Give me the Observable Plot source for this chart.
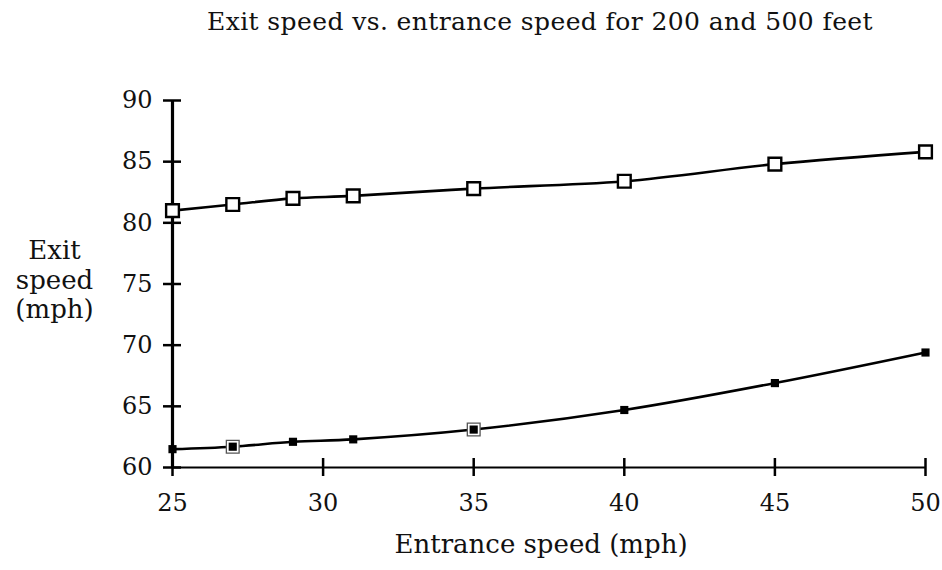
<!DOCTYPE html>
<html>
<head>
<meta charset="utf-8">
<script src="https://cdn.jsdelivr.net/npm/d3@7"></script>
<script src="https://cdn.jsdelivr.net/npm/@observablehq/plot@0.6"></script>
<style>
  html, body { margin: 0; padding: 0; background: #fff; }
  #title { width: 942px; height: 44px; box-sizing: border-box; padding-top: 9px; padding-left: 138px;
           text-align: center; font-family: "DejaVu Serif", serif; font-size: 25px; letter-spacing: 0.4px; line-height: 1; color: #111; }
</style>
</head>
<body>
<div id="title">Exit speed vs. entrance speed for 200 and 500 feet</div>
<div id="chart"></div>
<script>
// Data
const entrance = [25, 27, 29, 31, 35, 40, 45, 50];
const exit500 = [81.0, 81.5, 82.0, 82.2, 82.8, 83.4, 84.8, 85.8];
const exit200 = [61.5, 61.7, 62.1, 62.3, 63.1, 64.7, 66.9, 69.4];
const outlined200 = [27, 35];
const xTicks = [25, 30, 35, 40, 45, 50];
const yTicks = [60, 65, 70, 75, 80, 85, 90];

const series500 = entrance.map((x, i) => ({x, y: exit500[i]}));
const series200 = entrance.map((x, i) => ({x, y: exit200[i]}));
const series200Outlined = series200.filter(d => outlined200.includes(d.x));

const chart = Plot.plot({
  width: 942,
  height: 526,
  marginLeft: 172,
  marginRight: 17,
  marginTop: 56,
  marginBottom: 103,
  style: {fontFamily: "DejaVu Serif, serif", fontSize: "24px", color: "#111", background: "#fff"},
  x: {domain: [25, 50]},
  y: {domain: [60, 90]},
  marks: [
    Plot.ruleX([25], {stroke: "#000", strokeWidth: 3.2}),
    Plot.ruleY([60], {stroke: "#000", strokeWidth: 2}),
    Plot.axisY({ticks: yTicks, tickSize: 9, tickPadding: 11, strokeWidth: 2.5, stroke: "#000", label: null}),
    Plot.axisY({ticks: yTicks, tickSize: 9, dx: 9, strokeWidth: 2.5, stroke: "#000", tickFormat: () => "", label: null}),
    Plot.axisX({ticks: xTicks, tickSize: 9, tickPadding: 17, strokeWidth: 2.5, stroke: "#000", label: null}),
    Plot.axisX({ticks: xTicks, tickSize: 9, dy: -9, strokeWidth: 2.5, stroke: "#000", tickFormat: () => "", label: null}),
    Plot.line(series500, {x: "x", y: "y", curve: "catmull-rom", stroke: "#000", strokeWidth: 2.6}),
    Plot.line(series200, {x: "x", y: "y", curve: "catmull-rom", stroke: "#000", strokeWidth: 2.6}),
    Plot.dot(series500, {x: "x", y: "y", symbol: "square", r: 7.2, fill: "#fff", stroke: "#000", strokeWidth: 2.4}),
    Plot.dot(series200Outlined, {x: "x", y: "y", symbol: "square", r: 7.2, fill: "#fff", stroke: "#555", strokeWidth: 1.3}),
    Plot.dot(series200, {x: "x", y: "y", symbol: "square", r: 4.6, fill: "#000", stroke: "none"}),
    Plot.text(["Entrance speed (mph)"], {frameAnchor: "bottom", dy: 85, dx: -8, text: d => d, fontSize: 26, fill: "#111"}),
    Plot.text(["Exit\nspeed\n(mph)"], {frameAnchor: "left", dx: -118, dy: -5, text: d => d, fontSize: 26, lineHeight: 1.15, textAnchor: "middle", fill: "#111"})
  ]
});
document.getElementById("chart").appendChild(chart);
</script>
</body>
</html>
